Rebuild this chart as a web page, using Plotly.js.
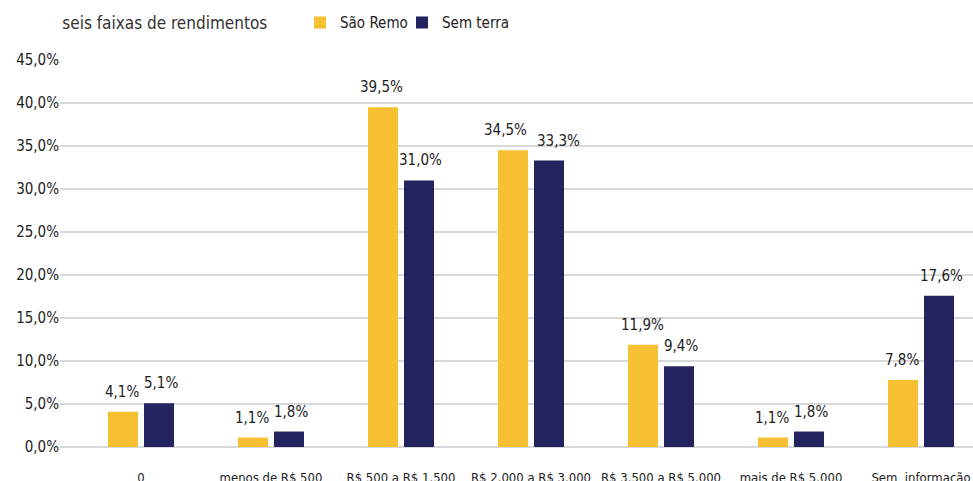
<!DOCTYPE html>
<html><head><meta charset="utf-8">
<script src="https://cdn.plot.ly/plotly-3.0.1.min.js"></script>
<style>html,body{margin:0;padding:0;background:#fff}#c{width:973px;height:481px}</style>
</head><body><div id="c"></div>
<script>
const categories = ["0", "menos de R$ 500", "R$ 500 a R$ 1.500", "R$ 2.000 a R$ 3.000", "R$ 3.500 a R$ 5.000", "mais de R$ 5.000", "Sem  informação"];
const saoRemo = [4.1, 1.1, 39.5, 34.5, 11.9, 1.1, 7.8];
const semTerra = [5.1, 1.8, 31.0, 33.3, 9.4, 1.8, 17.6];
const yTicks = [0, 5, 10, 15, 20, 25, 30, 35, 40, 45];

const FONT = "Liberation Sans Narrow, DejaVu Sans Condensed, Roboto, sans-serif";
const YEL = "#F7C133", NAV = "#23235F";
const idx = categories.map((c, i) => i);

function fmt(v){ return v.toFixed(1).replace('.', ',') + '%'; }

const traces = [
  {type:'bar', name:'São Remo', x:idx, y:saoRemo, marker:{color:YEL}, hoverinfo:'none', legend:'legend'},
  {type:'bar', name:'Sem terra', x:idx, y:semTerra, marker:{color:NAV}, hoverinfo:'none', legend:'legend2'}
];

// labels above each bar; wide labels pushed apart a little when the two values are close
const annotations = [];
[[saoRemo, semTerra, -19, -1], [semTerra, saoRemo, 20, 1]].forEach(([arr, other, xs, dir]) => {
  arr.forEach((v, i) => {
    const clash = Math.abs(v - other[i]) < 2.5 && v >= 10 && other[i] >= 10;
    annotations.push({
      x: i, y: v, xref:'x', yref:'y', text: fmt(v), showarrow:false,
      xshift: xs + (clash ? dir * 7 : 0), yshift: 9, yanchor:'bottom', xanchor:'center',
      font:{family:FONT, size:15, color:'#222'}
    });
  });
});

const legFont = {family:FONT, size:15, color:'#222'};
const layout = {
  width:973, height:481,
  margin:{l:60, r:0, t:60, b:34, autoexpand:false},
  paper_bgcolor:'#fff', plot_bgcolor:'#fff',
  separators: ',.',
  font:{family:FONT, color:'#222'},
  barmode:'group', bargap:0.446, bargroupgap:0.167,
  showlegend:true,
  legend:{orientation:'h', x:0.2629, y:1.096, xanchor:'left', yanchor:'middle', font:legFont, bgcolor:'rgba(0,0,0,0)'},
  legend2:{orientation:'h', x:0.3746, y:1.096, xanchor:'left', yanchor:'middle', font:legFont, bgcolor:'rgba(0,0,0,0)'},
  title:{text:'seis faixas de rendimentos', x:0.064, xanchor:'left', y:0.953, yanchor:'middle',
         font:{family:FONT, size:17, color:'#333'}},
  xaxis:{range:[-0.623, 6.4], tickmode:'array', tickvals:idx, ticktext:categories,
         showgrid:false, zeroline:false, showline:false, ticks:'outside', ticklen:18, tickcolor:'rgba(0,0,0,0)',
         tickfont:{family:FONT, size:13, color:'#222'}, fixedrange:true},
  yaxis:{range:[0, 45], tickmode:'array', tickvals:yTicks, ticktext:yTicks.map(fmt),
         showgrid:true, gridcolor:'#D9D9D9', gridwidth:1.5, zeroline:true, zerolinecolor:'#D9D9D9', zerolinewidth:1.5,
         showline:false, ticks:'', tickfont:{family:FONT, size:15, color:'#222'}, fixedrange:true},
  annotations: annotations
};

Plotly.newPlot('c', traces, layout, {displayModeBar:false, staticPlot:true});
</script></body></html>
